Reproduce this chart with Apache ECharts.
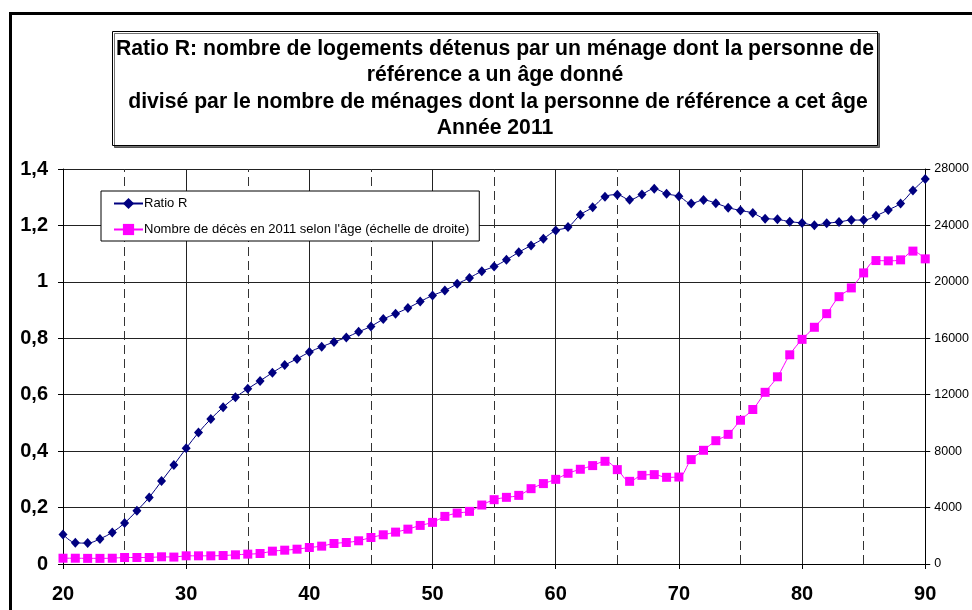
<!DOCTYPE html>
<html>
<head>
<meta charset="utf-8">
<script src="https://cdn.jsdelivr.net/npm/echarts@6/dist/echarts.min.js"></script>
<style>
  html, body { margin: 0; padding: 0; background: #fff; }
  #chart { width: 972px; height: 610px; }
</style>
</head>
<body>
<div id="chart"></div>
<script>
// Âge de la personne de référence (années)
const ages = [20, 21, 22, 23, 24, 25, 26, 27, 28, 29,
              30, 31, 32, 33, 34, 35, 36, 37, 38, 39,
              40, 41, 42, 43, 44, 45, 46, 47, 48, 49,
              50, 51, 52, 53, 54, 55, 56, 57, 58, 59,
              60, 61, 62, 63, 64, 65, 66, 67, 68, 69,
              70, 71, 72, 73, 74, 75, 76, 77, 78, 79,
              80, 81, 82, 83, 84, 85, 86, 87, 88, 89, 90];

// Ratio R (logements détenus / ménages), échelle de gauche
const ratioR = [0.105, 0.075, 0.074, 0.089, 0.112, 0.145, 0.189, 0.236, 0.294, 0.351,
                0.410, 0.466, 0.514, 0.556, 0.591, 0.621, 0.649, 0.678, 0.705, 0.727,
                0.751, 0.770, 0.787, 0.803, 0.823, 0.842, 0.868, 0.887, 0.907, 0.930,
                0.952, 0.969, 0.993, 1.014, 1.038, 1.054, 1.078, 1.105, 1.129, 1.153,
                1.182, 1.194, 1.238, 1.264, 1.302, 1.309, 1.291, 1.310, 1.330, 1.312,
                1.303, 1.278, 1.290, 1.279, 1.263, 1.253, 1.244, 1.224, 1.222, 1.213,
                1.209, 1.201, 1.208, 1.212, 1.219, 1.219, 1.234, 1.255, 1.278, 1.324, 1.365];

// Nombre de décès en 2011 selon l'âge, échelle de droite
const deces = [410, 410, 400, 400, 410, 460, 460, 460, 510, 490,
               580, 580, 580, 600, 650, 700, 745, 910, 980, 1050,
               1170, 1265, 1455, 1525, 1645, 1880, 2070, 2260, 2470, 2735,
               2950, 3375, 3610, 3730, 4180, 4560, 4725, 4865, 5340, 5700,
               6000, 6430, 6715, 6975, 7280, 6690, 5860, 6285, 6335, 6145,
               6165, 7400, 8060, 8740, 9190, 10190, 10950, 12170, 13270, 14830,
               15925, 16780, 17745, 18950, 19570, 20635, 21510, 21490, 21560, 22180, 21630];

// Repères verticaux en pointillés (âges intermédiaires)
const dashedAges = [25, 35, 45, 55, 65, 75, 85];

const leftTicks = { min: 0, max: 1.4, step: 0.2 };
const rightTicks = { min: 0, max: 28000, step: 4000 };
const xTicks = { min: 20, max: 90, step: 10 };

const seriesNames = ['Ratio R', "Nombre de décès en 2011 selon l'âge (échelle de droite)"];
const titleLines = [
  'Ratio R: nombre de logements détenus par un ménage dont la personne de',
  'référence a un âge donné',
  ' divisé par le nombre de ménages dont la personne de référence a cet âge',
  'Année 2011'
];

const FONT = "'Liberation Sans', Arial, Helvetica, sans-serif";

const chart = echarts.init(document.getElementById('chart'), null, { renderer: 'canvas' });

const option = {
  backgroundColor: '#ffffff',
  animation: false,
  textStyle: { fontFamily: FONT },
  grid: { left: 63, right: 45, top: 169, bottom: 46, containLabel: false },
  graphic: [
    {
      type: 'rect',
      z: 100,
      silent: true,
      shape: { x: 10.5, y: 13.5, width: 980, height: 620 },
      style: { fill: 'none', stroke: '#000', lineWidth: 3 }
    },
    {
      type: 'rect',
      z: 90,
      silent: true,
      shape: { x: 112.5, y: 31.5, width: 765, height: 114 },
      style: {
        fill: '#fff', stroke: '#000', lineWidth: 1,
        shadowColor: 'rgba(0,0,0,0.55)', shadowOffsetX: 2, shadowOffsetY: 2, shadowBlur: 0
      }
    },
    {
      type: 'text',
      z: 91,
      silent: true,
      x: 495,
      y: 88.5,
      style: {
        text: titleLines.join('\n'),
        font: 'bold 21.2px ' + FONT,
        fill: '#000',
        align: 'center',
        verticalAlign: 'middle',
        lineHeight: 26.5
      }
    }
  ],
  legend: {
    orient: 'vertical',
    left: 101,
    top: 191,
    padding: [6, 10, 5, 12],
    itemGap: 13,
    itemWidth: 29,
    itemHeight: 14,
    backgroundColor: '#fff',
    borderColor: '#000',
    borderWidth: 1,
    borderRadius: 0,
    textStyle: { fontFamily: FONT, fontSize: 13, color: '#000', padding: [0, 0, 0, -4] },
    data: seriesNames
  },
  xAxis: {
    type: 'value',
    min: xTicks.min,
    max: xTicks.max,
    interval: xTicks.step,
    axisLine: { show: true, onZero: false, lineStyle: { color: '#000', width: 1 } },
    axisTick: { show: true, inside: false, length: 5, lineStyle: { color: '#000' } },
    axisLabel: { color: '#000', fontSize: 20, fontWeight: 'bold', fontFamily: FONT, margin: 20 },
    splitLine: { show: true, lineStyle: { color: '#222', width: 1 } }
  },
  yAxis: [
    {
      type: 'value',
      position: 'left',
      min: leftTicks.min,
      max: leftTicks.max,
      interval: leftTicks.step,
      axisLine: { show: true, lineStyle: { color: '#000', width: 1 } },
      axisTick: { show: true, inside: false, length: 5, lineStyle: { color: '#000' } },
      axisLabel: {
        color: '#000', fontSize: 20, fontWeight: 'bold', fontFamily: FONT, margin: 15,
        formatter: v => String(Math.round(v * 10) / 10).replace('.', ',')
      },
      splitLine: { show: true, lineStyle: { color: '#222', width: 1 } }
    },
    {
      type: 'value',
      position: 'right',
      min: rightTicks.min,
      max: rightTicks.max,
      interval: rightTicks.step,
      axisLine: { show: true, lineStyle: { color: '#000', width: 1 } },
      axisTick: { show: true, inside: false, length: 5, lineStyle: { color: '#000' } },
      axisLabel: {
        color: '#000', fontSize: 12.5, fontFamily: FONT, margin: 9,
        formatter: v => String(Math.round(v))
      },
      splitLine: { show: false }
    }
  ],
  series: [
    {
      name: seriesNames[0],
      type: 'line',
      yAxisIndex: 0,
      data: ages.map((a, i) => [a, ratioR[i]]),
      smooth: 0.35,
      symbol: 'diamond',
      symbolSize: [9, 10],
      lineStyle: { color: '#000080', width: 1 },
      itemStyle: { color: '#000080' },
      z: 3,
      markLine: {
        silent: true,
        symbol: 'none',
        label: { show: false },
        z: 1,
        lineStyle: { type: [9, 5], color: '#333', width: 1 },
        data: dashedAges.map(a => ({ xAxis: a }))
      }
    },
    {
      name: seriesNames[1],
      type: 'line',
      yAxisIndex: 1,
      data: ages.map((a, i) => [a, deces[i]]),
      smooth: 0.35,
      symbol: 'rect',
      symbolSize: 9,
      lineStyle: { color: '#FF00FF', width: 1 },
      itemStyle: { color: '#FF00FF' },
      z: 2
    }
  ]
};

chart.setOption(option);
</script>
</body>
</html>
